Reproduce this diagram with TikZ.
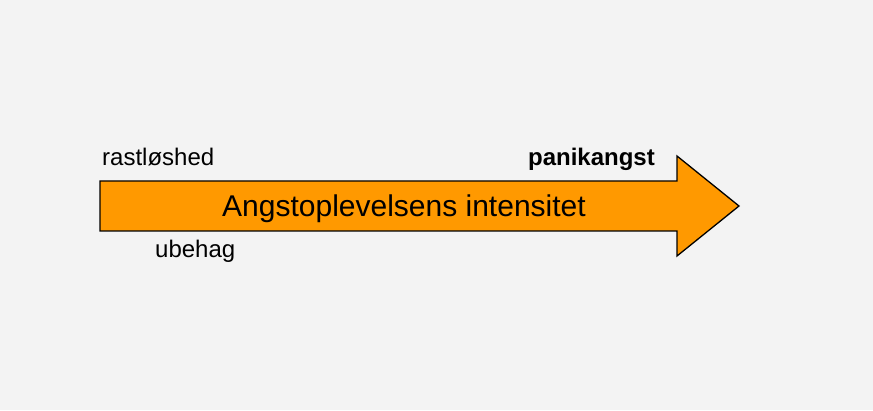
\documentclass[tikz,border=0pt]{standalone}
\usepackage{fontspec}
\setmainfont{Liberation Sans}
\usepackage{tikz}
\usetikzlibrary{positioning}
\definecolor{bggray}{HTML}{F3F3F3}
\definecolor{angstorange}{HTML}{FF9900}

\begin{document}
\begin{tikzpicture}[x=1pt,y=1pt]
% background
\fill[bggray] (0,0) rectangle (873,410);
\useasboundingbox (0,0) rectangle (873,410);

% intensity arrow
\draw[fill=angstorange, line width=1.3pt, line join=miter]
    (100,229) -- (677,229) -- (677,254) -- (739,204)
    -- (677,154) -- (677,179) -- (100,179) -- cycle;
\node[anchor=base, inner sep=0pt, font=\fontsize{30}{36}\selectfont] (intensitet) at (404,193) {Angstoplevelsens intensitet};

% labels
\node[anchor=base west, inner sep=0pt, font=\fontsize{24}{29}\selectfont] (rastloshed) at (102,244) {rastløshed};
\node[anchor=base west, inner sep=0pt, font=\fontsize{24}{29}\selectfont] (ubehag) at (155,152) {ubehag};
\node[anchor=base east, inner sep=0pt, font=\fontsize{24}{29}\selectfont\bfseries] (panikangst) at (655,244) {panikangst};

\end{tikzpicture}
\end{document}
